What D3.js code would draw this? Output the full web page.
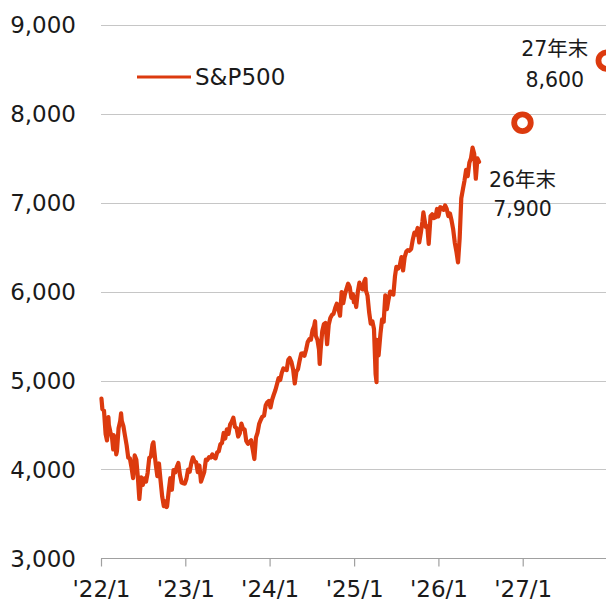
<!DOCTYPE html>
<html>
<head>
<meta charset="utf-8">
<script src="https://cdn.jsdelivr.net/npm/d3@7"></script>
<style>
html,body{margin:0;padding:0;background:#fff;}
svg{display:block;}
text{font-family:"DejaVu Sans","Noto Sans CJK JP",sans-serif;fill:#1a1a1a;}
</style>
</head>
<body>
<svg id="chart" width="606" height="603"></svg>
<script>
// S&P500 weekly closes (approx.)
const spx2022 = [["2022-01-03",4797],["2022-01-07",4677],["2022-01-14",4662],["2022-01-21",4398],["2022-01-27",4326],["2022-01-28",4431],["2022-02-02",4589],["2022-02-04",4500],["2022-02-11",4419],["2022-02-18",4349],["2022-02-23",4225],["2022-02-25",4385],["2022-03-04",4329],["2022-03-08",4170],["2022-03-11",4204],["2022-03-18",4463],["2022-03-25",4543],["2022-03-29",4631],["2022-04-01",4546],["2022-04-08",4488],["2022-04-14",4393],["2022-04-22",4272],["2022-04-29",4132],["2022-05-06",4123],["2022-05-13",4024],["2022-05-20",3901],["2022-05-27",4158],["2022-06-03",4109],["2022-06-10",3901],["2022-06-16",3667],["2022-06-24",3912],["2022-07-01",3825],["2022-07-08",3899],["2022-07-15",3863],["2022-07-22",3962],["2022-07-29",4130],["2022-08-05",4145],["2022-08-12",4280],["2022-08-16",4305],["2022-08-19",4228],["2022-08-26",4058],["2022-09-02",3924],["2022-09-09",4067],["2022-09-16",3873],["2022-09-23",3693],["2022-09-30",3586],["2022-10-07",3640],["2022-10-12",3577],["2022-10-14",3583],["2022-10-21",3752],["2022-10-28",3901],["2022-11-04",3771],["2022-11-11",3993],["2022-11-18",3965],["2022-11-25",4026],["2022-12-02",4072],["2022-12-09",3934],["2022-12-16",3852],["2022-12-23",3845],["2022-12-30",3840]];
const spx2023 = [["2023-01-06",3895],["2023-01-13",3999],["2023-01-20",3973],["2023-01-27",4071],["2023-02-03",4136],["2023-02-10",4090],["2023-02-17",4079],["2023-02-24",3970],["2023-03-03",4045],["2023-03-10",3862],["2023-03-17",3917],["2023-03-24",3971],["2023-03-31",4109],["2023-04-06",4105],["2023-04-14",4138],["2023-04-21",4133],["2023-04-28",4169],["2023-05-05",4136],["2023-05-12",4124],["2023-05-19",4192],["2023-05-26",4205],["2023-06-02",4282],["2023-06-09",4299],["2023-06-16",4410],["2023-06-23",4348],["2023-06-30",4450],["2023-07-07",4399],["2023-07-14",4505],["2023-07-21",4536],["2023-07-28",4582],["2023-08-04",4478],["2023-08-11",4464],["2023-08-18",4370],["2023-08-25",4406],["2023-09-01",4516],["2023-09-08",4457],["2023-09-15",4450],["2023-09-22",4320],["2023-09-29",4288],["2023-10-06",4309],["2023-10-13",4327],["2023-10-20",4224],["2023-10-27",4117],["2023-11-03",4358],["2023-11-10",4415],["2023-11-17",4514],["2023-11-24",4559],["2023-12-01",4595],["2023-12-08",4604],["2023-12-15",4719],["2023-12-22",4755],["2023-12-29",4770]];
const spx2024 = [["2024-01-05",4697],["2024-01-12",4784],["2024-01-19",4840],["2024-01-26",4891],["2024-02-02",4959],["2024-02-09",5027],["2024-02-16",5006],["2024-02-23",5089],["2024-03-01",5137],["2024-03-08",5124],["2024-03-15",5117],["2024-03-22",5234],["2024-03-28",5254],["2024-04-05",5204],["2024-04-12",5123],["2024-04-19",4967],["2024-04-26",5100],["2024-05-03",5128],["2024-05-10",5223],["2024-05-17",5303],["2024-05-24",5305],["2024-05-31",5278],["2024-06-07",5347],["2024-06-14",5432],["2024-06-21",5465],["2024-06-28",5460],["2024-07-05",5567],["2024-07-12",5615],["2024-07-16",5667],["2024-07-19",5505],["2024-07-26",5459],["2024-08-02",5346],["2024-08-05",5186],["2024-08-09",5344],["2024-08-16",5554],["2024-08-23",5635],["2024-08-30",5648],["2024-09-06",5408],["2024-09-13",5626],["2024-09-20",5703],["2024-09-27",5738],["2024-10-04",5751],["2024-10-11",5815],["2024-10-18",5865],["2024-10-25",5808],["2024-11-01",5729],["2024-11-08",5996],["2024-11-15",5871],["2024-11-22",5969],["2024-11-29",6032],["2024-12-06",6090],["2024-12-13",6051],["2024-12-20",5931],["2024-12-27",5971],["2024-12-31",5882]];
const spx2025 = [["2025-01-03",5942],["2025-01-10",5827],["2025-01-17",5997],["2025-01-24",6101],["2025-01-31",6041],["2025-02-07",6026],["2025-02-14",6115],["2025-02-19",6144],["2025-02-21",6013],["2025-02-28",5955],["2025-03-07",5770],["2025-03-14",5639],["2025-03-21",5668],["2025-03-28",5581],["2025-04-04",5074],["2025-04-08",4982],["2025-04-09",5457],["2025-04-11",5363],["2025-04-17",5283],["2025-04-25",5525],["2025-05-02",5687],["2025-05-09",5660],["2025-05-16",5958],["2025-05-23",5803],["2025-05-30",5912],["2025-06-06",6000],["2025-06-13",5977],["2025-06-20",5968],["2025-06-27",6173],["2025-07-03",6280],["2025-07-11",6260],["2025-07-18",6297],["2025-07-25",6389],["2025-08-01",6238],["2025-08-08",6389],["2025-08-15",6450],["2025-08-22",6467],["2025-08-29",6460],["2025-09-05",6482],["2025-09-12",6584],["2025-09-19",6664],["2025-09-26",6644],["2025-10-03",6716],["2025-10-10",6553],["2025-10-17",6664],["2025-10-24",6792],["2025-10-28",6891],["2025-10-31",6840],["2025-11-07",6729],["2025-11-14",6734],["2025-11-20",6538],["2025-11-28",6849],["2025-12-05",6870],["2025-12-12",6827],["2025-12-19",6835],["2025-12-26",6930],["2025-12-31",6845]];
const spx2026 = [["2026-01-02",6860],["2026-01-09",6950],["2026-01-16",6940],["2026-01-23",6920],["2026-01-30",6970],["2026-02-06",6930],["2026-02-13",6850],["2026-02-20",6880],["2026-02-27",6800],["2026-03-06",6700],["2026-03-13",6550],["2026-03-20",6450],["2026-03-27",6330],["2026-04-03",6600],["2026-04-10",7050],["2026-04-17",7150],["2026-04-24",7250],["2026-05-01",7370],["2026-05-08",7300],["2026-05-15",7450],["2026-05-22",7500],["2026-05-29",7620],["2026-06-05",7550],["2026-06-12",7270],["2026-06-19",7500],["2026-06-26",7460]];

// Forecast points
const forecastDates = ["2026-12-31","2027-12-31"];
const forecastValues = [7900, 8600];
const forecastLabels = ["26年末","27年末"];

const yTicks = [3000,4000,5000,6000,7000,8000,9000];
const xTickDates = ["2022-01-01","2023-01-01","2024-01-01","2025-01-01","2026-01-01","2027-01-01"];
const xTickLabels = ["'22/1","'23/1","'24/1","'25/1","'26/1","'27/1"];
const seriesName = "S&P500";

const parse = d3.timeParse("%Y-%m-%d");
const series = [].concat(spx2022, spx2023, spx2024, spx2025, spx2026).map(d => ({date: parse(d[0]), value: d[1]}));
const forecast = forecastDates.map((d,i) => ({date: parse(d), value: forecastValues[i], label: forecastLabels[i]}));

const color = "#dc3a0e";
const svg = d3.select("#chart");

const x = d3.scaleTime().domain([parse("2022-01-01"), parse("2028-01-01")]).range([101, 607]);
const y = d3.scaleLinear().domain([3000, 9000]).range([558.3, 25]);

// gridlines
svg.append("g").selectAll("line").data(yTicks.slice(1)).join("line")
  .attr("x1", 101).attr("x2", 606)
  .attr("y1", d => Math.round(y(d)) + 0.5).attr("y2", d => Math.round(y(d)) + 0.5)
  .attr("stroke", "#c6c6c6").attr("stroke-width", 1.2);

// y labels
svg.append("g").selectAll("text").data(yTicks).join("text")
  .attr("x", 76).attr("y", d => y(d)).attr("dy", "0.36em")
  .attr("text-anchor", "end").style("font-size", "23px")
  .text(d => d3.format(",")(d));

// x axis
const xAxis = d3.axisBottom(x)
  .tickValues(xTickDates.map(parse))
  .tickFormat((d,i) => xTickLabels[i])
  .tickSize(8).tickSizeOuter(0);
const gx = svg.append("g").attr("transform", "translate(0,558.5)").call(xAxis);
gx.select(".domain").attr("stroke", "#a0a0a0").attr("stroke-width", 1.2).attr("d", "M101,0H606");
gx.selectAll(".tick line").attr("stroke", "#a0a0a0").attr("stroke-width", 1.2);
gx.selectAll(".tick text").attr("y", 22).attr("dy", "0.71em")
  .style("font-size", "23px").style("font-family", '"DejaVu Sans",sans-serif').attr("fill", "#1a1a1a");

// line
const line = d3.line().x(d => x(d.date)).y(d => y(d.value)).curve(d3.curveLinear);
svg.append("path").datum(series)
  .attr("d", line).attr("fill", "none")
  .attr("stroke", color).attr("stroke-width", 4.2)
  .attr("stroke-linejoin", "round").attr("stroke-linecap", "round");

// forecast circles
svg.append("g").selectAll("circle").data(forecast).join("circle")
  .attr("cx", d => x(d.date)).attr("cy", d => y(d.value))
  .attr("r", 8.3).attr("fill", "#fff").attr("stroke", color).attr("stroke-width", 5.8);

// annotations
const ann = [
  {i:0, dx:0, dy1:64, dy2:93},
  {i:1, dx:-52, dy1:-5, dy2:26}
];
ann.forEach(a => {
  const d = forecast[a.i];
  const cx = x(d.date) + a.dx, cy = y(d.value);
  svg.append("text").attr("x", cx).attr("y", cy + a.dy1)
    .attr("text-anchor", "middle").style("font-size", "20.5px").text(d.label);
  svg.append("text").attr("x", cx).attr("y", cy + a.dy2)
    .attr("text-anchor", "middle").style("font-size", "20.5px").text(d3.format(",")(d.value));
});

// legend
svg.append("line").attr("x1", 137).attr("x2", 191).attr("y1", 77).attr("y2", 77)
  .attr("stroke", color).attr("stroke-width", 3.2);
svg.append("text").attr("x", 195).attr("y", 77).attr("dy", "0.36em")
  .style("font-size", "23px").text(seriesName);
</script>
</body>
</html>
